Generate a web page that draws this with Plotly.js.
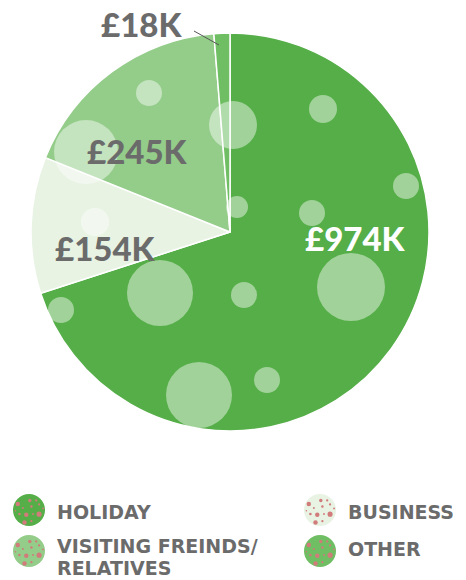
<!DOCTYPE html>
<html>
<head>
<meta charset="utf-8">
<script src="https://cdn.plot.ly/plotly-3.0.1.min.js"></script>
<style>html,body{margin:0;padding:0;background:#fff;}#chart{width:466px;height:580px;}</style>
</head>
<body>
<div id="chart"></div>
<script>
// ---- data ----
const categories = ['Holiday', 'Business', 'Visiting Freinds/Relatives', 'Other'];
const values = [974, 154, 245, 18];            // £K
const sliceColors = ['#55ae48', '#e8f3e4', '#94cc8a', '#70be64'];
const legendLines = [['HOLIDAY'], ['BUSINESS'], ['VISITING FREINDS/', 'RELATIVES'], ['OTHER']];

// ---- helpers (pixel -> paper) ----
const W = 466, H = 580;
const px = x => x / W;
const py = y => 1 - y / H;

const FONT = 'Lato, "Open Sans", sans-serif';
const LFONT = '"DejaVu Sans", sans-serif';
const GREY = '#6b6b6b';

const trace = {
  type: 'pie',
  labels: categories,
  values: values,
  sort: false,
  direction: 'clockwise',
  rotation: 0,
  textinfo: 'none',
  hoverinfo: 'label+value',
  marker: { colors: sliceColors, line: { color: '#ffffff', width: 1.5 } },
  domain: { x: [px(31), px(429)], y: [py(431), py(33)] },
  showlegend: false
};

// decorative bubbles on the pie
const bubbles = [
  [149, 93, 13], [233, 125, 24], [323, 109, 14], [406, 186, 13],
  [86, 152, 32], [312, 213, 13], [237, 207, 11], [95, 222, 14],
  [160, 293, 33], [244, 295, 13], [351, 287, 34], [61, 310, 13],
  [199, 395, 33], [267, 380, 13]
];
const shapes = bubbles.map(([cx, cy, r]) => ({
  type: 'circle', xref: 'paper', yref: 'paper',
  x0: px(cx - r), x1: px(cx + r), y0: py(cy + r), y1: py(cy - r),
  fillcolor: 'rgba(255,255,255,0.45)', line: { width: 0 }, layer: 'above'
}));

// leader line for the smallest slice
shapes.push({ type: 'line', xref: 'paper', yref: 'paper',
  x0: px(194), y0: py(31), x1: px(219), y1: py(45),
  line: { color: '#555555', width: 1 } });

// legend markers
const legendPos = [[29, 510], [320, 510], [29, 551], [320, 551]];
const dotPattern = [
  [-0.70, -0.38, 0.14], [0.05, -0.60, 0.11], [0.45, -0.60, 0.07], [0.63, -0.35, 0.07],
  [-0.38, -0.12, 0.06], [0.15, -0.22, 0.08], [-0.60, 0.25, 0.08], [-0.17, 0.30, 0.14],
  [0.25, 0.25, 0.06], [0.63, 0.26, 0.16], [-0.28, 0.78, 0.14], [0.15, 0.70, 0.07],
  [0.88, -0.10, 0.06], [-0.85, 0.05, 0.05]
];
const R = 16;
legendPos.forEach(([cx, cy], i) => {
  shapes.push({ type: 'circle', xref: 'paper', yref: 'paper',
    x0: px(cx - R), x1: px(cx + R), y0: py(cy + R), y1: py(cy - R),
    fillcolor: sliceColors[i], line: { width: 0 } });
  dotPattern.forEach(([dx, dy, dr]) => {
    const x = cx + dx * R, y = cy + dy * R, r = dr * R;
    shapes.push({ type: 'circle', xref: 'paper', yref: 'paper',
      x0: px(x - r), x1: px(x + r), y0: py(y + r), y1: py(y - r),
      fillcolor: '#d27b7b', line: { width: 0 } });
  });
});

// value labels
const fmt = v => '£' + v + 'K';
const labelPos = [[355, 238, '#ffffff'], [105, 248, GREY], [137, 151, GREY], [141, 24, GREY]];
const annotations = values.map((v, i) => ({
  xref: 'paper', yref: 'paper', x: px(labelPos[i][0]), y: py(labelPos[i][1]),
  xanchor: 'center', yanchor: 'middle', showarrow: false,
  text: fmt(v),
  font: { family: FONT, size: 33, color: labelPos[i][2], weight: 900 }
}));

// legend text
const legendTextY = [[512], [512], [546, 568], [549]];
legendLines.forEach((lines, i) => {
  const [cx] = legendPos[i];
  lines.forEach((t, j) => {
    annotations.push({
      xref: 'paper', yref: 'paper', x: px(cx + 26), y: py(legendTextY[i][j]),
      xanchor: 'left', yanchor: 'middle', align: 'left', showarrow: false,
      text: t,
      font: { family: LFONT, size: 19, color: GREY, weight: 700 }
    });
  });
});

const layout = {
  width: W, height: H,
  margin: { l: 0, r: 0, t: 0, b: 0 },
  paper_bgcolor: '#ffffff',
  showlegend: false,
  shapes: shapes,
  annotations: annotations
};

Plotly.newPlot('chart', [trace], layout, { displayModeBar: false, staticPlot: true });
</script>
</body>
</html>
